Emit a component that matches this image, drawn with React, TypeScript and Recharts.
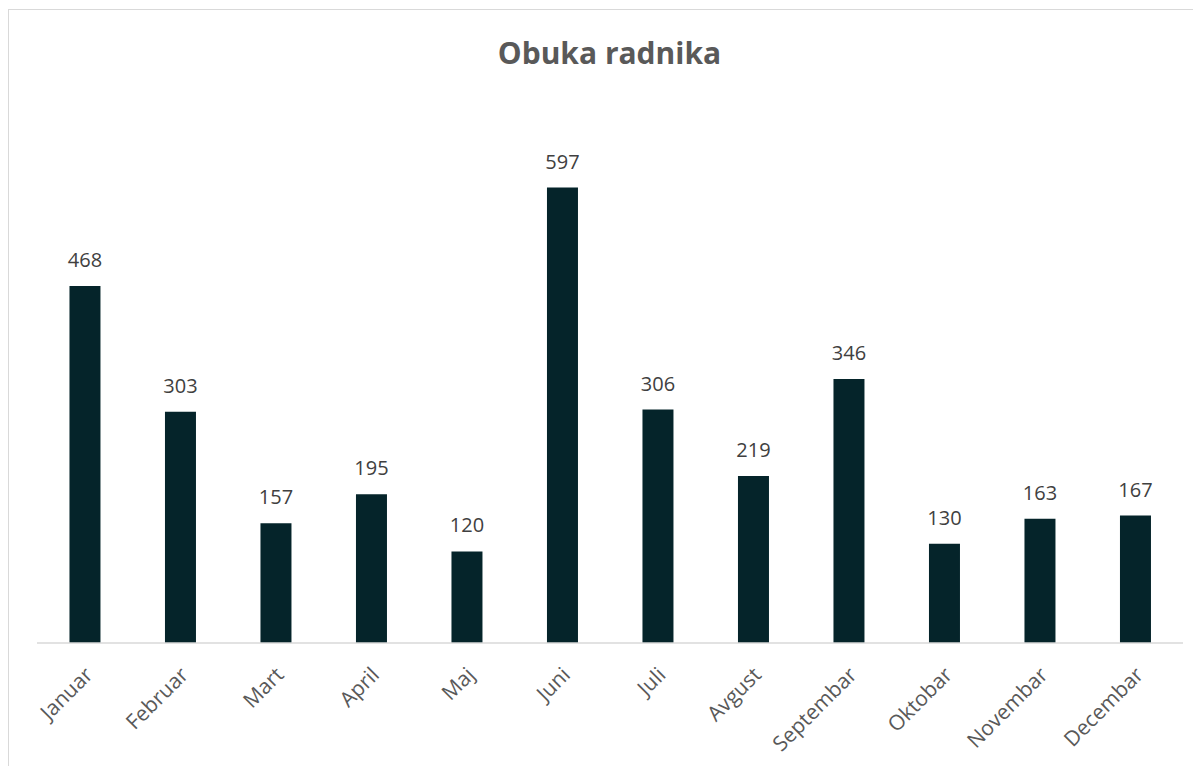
import { BarChart, Bar, XAxis, YAxis, LabelList } from "recharts";

const months = [
  "Januar",
  "Februar",
  "Mart",
  "April",
  "Maj",
  "Juni",
  "Juli",
  "Avgust",
  "Septembar",
  "Oktobar",
  "Novembar",
  "Decembar",
];
const trainees = [468, 303, 157, 195, 120, 597, 306, 219, 346, 130, 163, 167];

const data = months.map((m, i) => ({ month: m, value: trainees[i] }));

const font = "'Open Sans', 'Noto Sans', sans-serif";

function MonthTick(props: any) {
  const { x, y, payload } = props;
  return (
    <g transform={`translate(${x + 4},${y + 20})`}>
      <text
        x={0}
        y={0}
        dy="0.35em"
        textAnchor="end"
        transform="rotate(-45)"
        fill="#595959"
        fontSize={21}
        fontFamily={font}
      >
        {payload.value}
      </text>
    </g>
  );
}

export default function App() {
  return (
    <div
      style={{
        marginTop: 1,
        width: 1200,
        height: 760,
        borderLeft: "1.5px solid #d9d9d9",
        borderTop: "1.5px solid #d9d9d9",
        background: "#fff",
        position: "relative",
        fontFamily: font,
      }}
    >
      <div
        style={{
          position: "absolute",
          top: 22,
          left: 0,
          width: 1201,
          textAlign: "center",
          fontSize: 30,
          fontWeight: 700,
          color: "#595959",
        }}
      >
        Obuka radnika
      </div>
      <BarChart
        width={1192}
        height={756}
        data={data}
        barCategoryGap="34%"
        margin={{ top: 99, right: 18, bottom: 23, left: 28 }}
      >
        <XAxis
          dataKey="month"
          axisLine={{ stroke: "#d9d9d9", strokeWidth: 1.5 }}
          tickLine={false}
          interval={0}
          height={100}
          tick={<MonthTick />}
        />
        <YAxis hide domain={[0, 700]} />
        <Bar dataKey="value" fill="#05242a" isAnimationActive={false}>
          <LabelList
            dataKey="value"
            position="top"
            offset={19}
            fill="#404040"
            fontSize={20}
            fontFamily={font}
          />
        </Bar>
      </BarChart>
    </div>
  );
}
